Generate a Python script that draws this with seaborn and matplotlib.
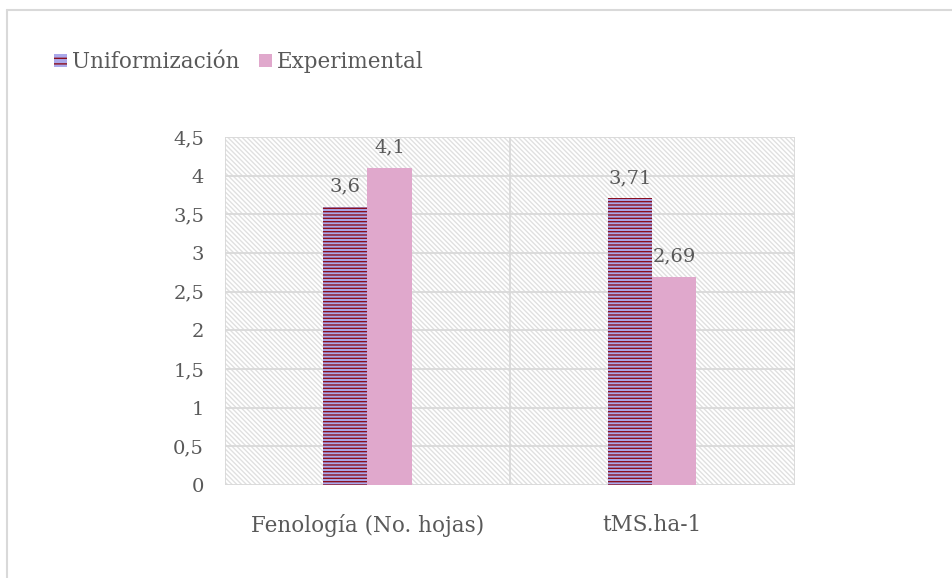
import matplotlib
matplotlib.use('Agg')
import matplotlib.pyplot as plt
import seaborn as sns
import pandas as pd
from matplotlib.patches import Patch, Rectangle
from matplotlib.lines import Line2D

# data
categories = ['Fenología (No. hojas)', 'tMS.ha-1']
series = ['Uniformización', 'Experimental']
uniformizacion = [3.6, 3.71]
experimental = [4.1, 2.69]
yticks = [0, 0.5, 1, 1.5, 2, 2.5, 3, 3.5, 4, 4.5]

df = pd.DataFrame({
    'categoria': categories * 2,
    'serie': [series[0]] * 2 + [series[1]] * 2,
    'valor': uniformizacion + experimental,
})

sns.set_style('white')
plt.rcParams['font.family'] = ['DejaVu Serif']
plt.rcParams['hatch.linewidth'] = 1.0
grey_text = '#595959'
grid_col = '#d9d9d9'
red = '#8b0f1e'
lav = '#aaa8ea'
pink = '#e0a8cc'

fig = plt.figure(figsize=(9.53, 5.78), dpi=100)
ax = fig.add_axes([0.236, 0.161, 0.598, 0.602])

# hatched background of the plot area
bg = Rectangle((0, 0), 1, 1, transform=ax.transAxes, facecolor='white',
               edgecolor='#e0e0e0', hatch='\\' * 7, linewidth=0, zorder=0)
ax.add_patch(bg)

sns.barplot(data=df, x='categoria', y='valor', hue='serie', order=categories,
            hue_order=series, palette=[lav, pink], saturation=1, width=0.31,
            ax=ax, legend=False, zorder=3)

bars = [p for p in ax.patches if p is not bg]
# first two bars are Uniformización
for bar in bars[:2]:
    bar.set_hatch('-----')
    bar.set_edgecolor(red)
    bar.set_linewidth(0)
for bar in bars[2:]:
    bar.set_linewidth(0)

vals = uniformizacion + experimental
for bar, v in zip(bars, vals):
    txt = f'{v:g}'.replace('.', ',')
    ax.annotate(txt, (bar.get_x() + bar.get_width() / 2, v),
                xytext=(0, 8), textcoords='offset points', ha='center',
                va='bottom', fontsize=14, color=grey_text, zorder=5)

ax.set_ylim(0, 4.5)
ax.set_xlim(-0.5, 1.5)
ax.set_yticks(yticks)
ax.set_yticklabels([f'{t:g}'.replace('.', ',') for t in yticks])
for t in yticks:
    ax.axhline(t, color=grid_col, lw=1.3, zorder=1)
for x in [-0.5, 0.5, 1.5]:
    ax.axvline(x, color=grid_col, lw=1.3, zorder=1)
ax.tick_params(axis='both', length=0, colors=grey_text)
ax.tick_params(axis='y', pad=15, labelsize=14)
ax.tick_params(axis='x', pad=21, labelsize=15.5)
ax.set_xlabel('')
ax.set_ylabel('')
for s in ax.spines.values():
    s.set_visible(False)

handles = [Patch(facecolor=lav, edgecolor=red, hatch='---', linewidth=0),
           Patch(facecolor=pink, linewidth=0)]
fig.legend(handles, series, loc='upper left', bbox_to_anchor=(0.036, 0.945),
           ncol=2, frameon=False, fontsize=15.5, labelcolor=grey_text,
           handlelength=0.6, handleheight=0.6, handletextpad=0.25,
           columnspacing=0.9)

# chart border
fig.add_artist(Line2D([0.0075, 0.0075], [0, 0.983], color='#d9d9d9', lw=1.5))
fig.add_artist(Line2D([0.0075, 1], [0.983, 0.983], color='#d9d9d9', lw=1.5))

fig.savefig('out.png', dpi=100)
